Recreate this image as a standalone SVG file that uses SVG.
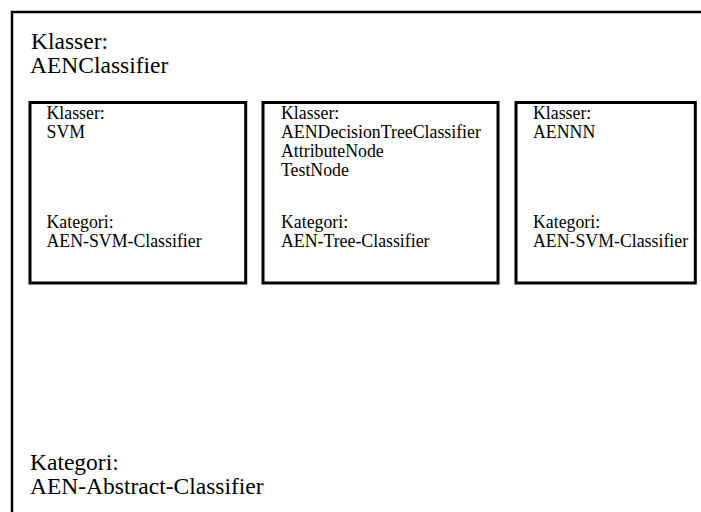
<svg xmlns="http://www.w3.org/2000/svg" width="701" height="512" viewBox="0 0 701 512">
  <style>
    text { font-family: "Liberation Serif", "Times New Roman", serif; fill: #000; }
    .big { font-size: 23.5px; }
    .small { font-size: 17.8px; }
    .frame { fill: none; stroke: #000; stroke-width: 2.5; }
    .box { fill: #fff; stroke: #000; stroke-width: 3; }
  </style>
  <rect width="701" height="512" fill="#fff"/>

  <!-- outer package: AENClassifier (frame continues past the right and bottom edges) -->
  <g id="aen-classifier">
    <rect class="frame" x="12" y="12" width="700" height="510"/>
    <text class="big" x="31" y="49">Klasser:</text>
    <text class="big" x="30" y="73">AENClassifier</text>
    <text class="big" x="30" y="470">Kategori:</text>
    <text class="big" x="30" y="494">AEN-Abstract-Classifier</text>
  </g>

  <!-- SVM package -->
  <g id="svm">
    <rect class="box" x="30" y="102.5" width="215.7" height="180.5"/>
    <text class="small" x="46.5" y="118.5">Klasser:</text>
    <text class="small" x="46.5" y="137.5">SVM</text>
    <text class="small" x="46.5" y="228">Kategori:</text>
    <text class="small" x="46.5" y="247">AEN-SVM-Classifier</text>
  </g>

  <!-- decision tree package -->
  <g id="decision-tree">
    <rect class="box" x="263" y="102.5" width="235" height="180.5"/>
    <text class="small" x="281" y="118.5">Klasser:</text>
    <text class="small" x="281" y="137.5">AENDecisionTreeClassifier</text>
    <text class="small" x="281" y="156.5">AttributeNode</text>
    <text class="small" x="281" y="175.5">TestNode</text>
    <text class="small" x="281" y="228">Kategori:</text>
    <text class="small" x="281" y="247">AEN-Tree-Classifier</text>
  </g>

  <!-- neural network package -->
  <g id="aennn">
    <rect class="box" x="516" y="102.5" width="179.3" height="180.5"/>
    <text class="small" x="533" y="118.5">Klasser:</text>
    <text class="small" x="533" y="137.5">AENNN</text>
    <text class="small" x="533" y="228">Kategori:</text>
    <text class="small" x="533" y="247">AEN-SVM-Classifier</text>
  </g>
</svg>
